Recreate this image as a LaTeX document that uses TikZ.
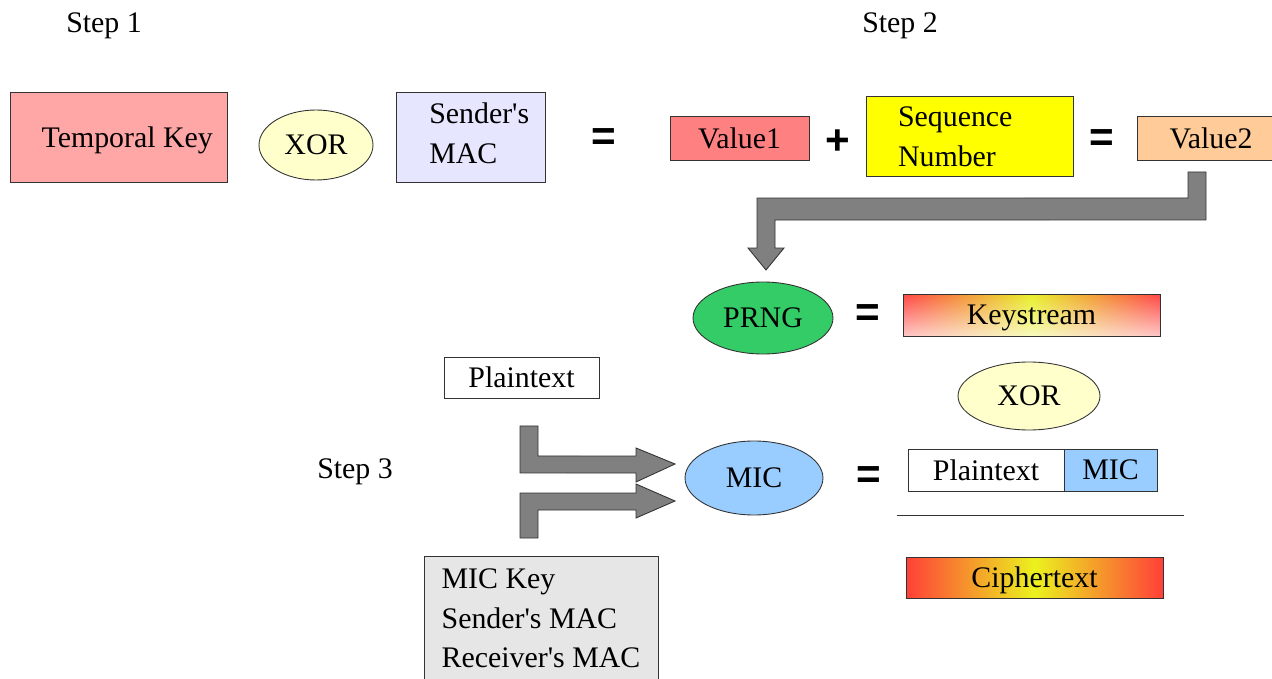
\documentclass[tikz,border=0pt]{standalone}
\usepackage{fontspec}
\setmainfont{Liberation Serif}
\newfontfamily\signfont{Liberation Sans}
\usetikzlibrary{shapes.geometric,calc,fadings}
\definecolor{tkred}{RGB}{255,166,166}
\definecolor{macblue}{RGB}{230,230,255}
\definecolor{xoryellow}{RGB}{255,255,204}
\definecolor{valred}{RGB}{255,128,128}
\definecolor{valpeach}{RGB}{255,204,153}
\definecolor{seqyellow}{RGB}{255,255,0}
\definecolor{prnggreen}{RGB}{51,204,102}
\definecolor{micblue}{RGB}{153,204,255}
\definecolor{keygray}{RGB}{230,230,230}
\definecolor{ksred}{RGB}{255,70,70}
\definecolor{ksyellow}{RGB}{232,240,40}
\definecolor{ctred}{RGB}{255,64,56}
\definecolor{ctyellow}{RGB}{235,242,30}
\tikzfading[name=fadeup, top color=transparent!100, bottom color=transparent!30]

\begin{document}
\begin{tikzpicture}[x=0.02cm,y=-0.02cm,
    every node/.style={font=\fontsize{17}{22.5}\selectfont},
    box/.style={draw=black!80,line width=0.5pt,rectangle,inner sep=0pt,outer sep=0pt,text depth=0pt},
    oval/.style={draw=black!80,line width=0.5pt,ellipse,inner sep=0pt,outer sep=0pt,text depth=0pt},
    opsign/.style={font=\signfont\bfseries\fontsize{24}{24}\selectfont},
    blockarrow/.style={draw=black!80,fill=black!50,line width=0.5pt,line join=miter}]
    \useasboundingbox (0,0) rectangle (1272,679);

    \node (s1) at (104,26) {Step 1};
    \node (s2) at (900,26) {Step 2};
    \node (s3) at (355,472) {Step 3};

    \node[box,fill=tkred,minimum width=4.34cm,minimum height=1.8cm] (tk) at (118.5,137) {\hspace*{0.35cm}Temporal Key};
    \node[oval,fill=xoryellow,minimum width=2.28cm,minimum height=1.4cm] (xor1) at (316,145) {XOR};
    \node[box,fill=macblue,minimum width=2.98cm,minimum height=1.8cm,align=left,text depth=0.16cm] (smac) at (470.5,137) {\hspace*{0.35cm}Sender\textquotesingle s\\\hspace*{0.35cm}MAC};
    \node[opsign] (eq1) at (604,140) {=};
    \node[box,fill=valred,minimum width=2.78cm,minimum height=0.88cm] (v1) at (739.5,138) {Value1};
    \node[opsign] (plus) at (838,142) {+};
    \node[box,fill=seqyellow,minimum width=4.14cm,minimum height=1.6cm,text width=2.86cm,align=left,text depth=0.76cm] (seq) at (969.5,136) {Sequence\\Number};
    \node[opsign] (eq2) at (1102,141) {=};
    \node[box,fill=valpeach,minimum width=2.96cm,minimum height=0.88cm] (v2) at (1211,138) {Value2};

    \node[oval,fill=prnggreen,minimum width=2.8cm,minimum height=1.44cm] (prng) at (763,318) {PRNG};
    \node[opsign] (eq3) at (868,316) {=};
    \node[box,left color=ksred,right color=ksred,middle color=ksyellow,minimum width=5.14cm,minimum height=0.84cm,
        path picture={\fill[white,path fading=fadeup] (path picture bounding box.north west) rectangle (path picture bounding box.south east);}] (ks) at (1031.5,315) {Keystream};
    \node[oval,fill=xoryellow,minimum width=2.84cm,minimum height=1.36cm] (xor2) at (1029,396) {XOR};

    \node[box,fill=white,minimum width=3.1cm,minimum height=0.82cm] (pt) at (521.5,377.5) {Plaintext};
    \node[oval,fill=micblue,minimum width=2.76cm,minimum height=1.48cm] (mic) at (754,478) {MIC};
    \node[opsign] (eq4) at (869,478) {=};
    \node[box,fill=white,minimum width=3.12cm,minimum height=0.84cm] (ptm) at (986,470) {Plaintext};
    \node[box,fill=micblue,minimum width=1.86cm,minimum height=0.84cm,anchor=west] (micb) at (ptm.east) {MIC};
    \coordinate (rl) at (897,515);
    \coordinate (rr) at (1184,515);
    \draw[black!80,line width=0.5pt] (rl) -- (rr);
    \node[box,left color=ctred,right color=ctred,middle color=ctyellow,minimum width=5.14cm,minimum height=0.82cm] (ct) at (1034.5,577.5) {Ciphertext};
    \node[box,fill=keygray,minimum width=4.68cm,minimum height=2.68cm,align=left,text depth=0.18cm] (keys) at (541,623) {MIC Key\\Sender\textquotesingle s MAC\\Receiver\textquotesingle s MAC};

    \coordinate (kfrom) at ($(v2.south)+(-14,12)$);
    \coordinate (kto) at ($(prng.north)+(3,-12)$);
    \coordinate (pfrom) at ($(pt.south)+(7.5,28)$);
    \coordinate (pto) at ($(mic.west)+(-10,-14)$);
    \coordinate (mfrom) at ($(keys.north)+(-12,-18)$);
    \coordinate (mto) at ($(mic.west)+(-10,23)$);

    \draw[blockarrow] ($(kfrom)+(-9,0)$) -- ++(18,0) -- ++(0,48) -- ($(kto)+(9,-50)$) -- ++(0,28) -- ++(9,0) -- (kto) -- ++(-18,-22) -- ++(9,0) -- ++(0,-50) -- ($(kfrom)+(-9,26)$) -- cycle;
    \draw[blockarrow] ($(pfrom)+(-9,0)$) -- ++(18,0) -- ++(0,30) -- ($(pto)+(-39,-8)$) -- ++(0,-8) -- (pto) -- ++(-39,18) -- ++(0,-9) -- ($(pfrom)+(-9,47)$) -- cycle;
    \draw[blockarrow] ($(mfrom)+(-9,0)$) -- ++(18,0) -- ++(0,-28) -- ($(mto)+(-39,9)$) -- ++(0,8) -- (mto) -- ++(-39,-17) -- ++(0,9) -- ($(mfrom)+(-9,-45)$) -- cycle;
  \end{tikzpicture}
\end{document}
